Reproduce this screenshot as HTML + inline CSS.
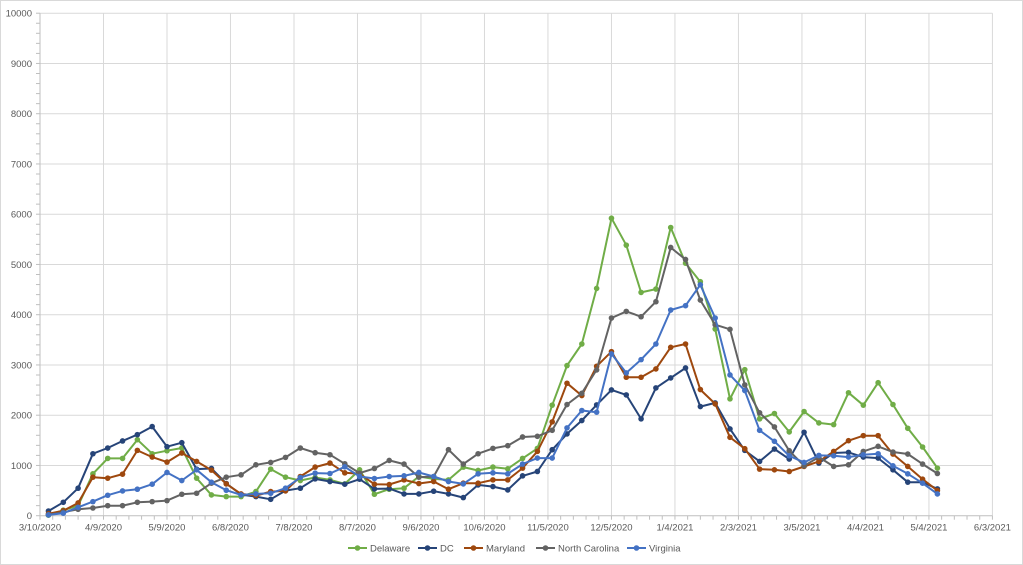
<!DOCTYPE html>
<html><head><meta charset="utf-8"><style>
html,body{margin:0;padding:0;background:#fff;}
svg{display:block;font-family:"Liberation Sans",sans-serif;}
</style></head><body>
<svg id="chart" width="1023" height="565">
<rect x="0.5" y="0.5" width="1022" height="564" fill="#fff" stroke="#d9d9d9"/>
<g id="grid"></g>
<g id="axes"></g>
<g id="series"></g>
<g id="legend"></g>
</svg>
<script>
const xTickLabels = ["3/10/2020","4/9/2020","5/9/2020","6/8/2020","7/8/2020","8/7/2020","9/6/2020","10/6/2020","11/5/2020","12/5/2020","1/4/2021","2/3/2021","3/5/2021","4/4/2021","5/4/2021","6/3/2021"];
const yTicks = [0,1000,2000,3000,4000,5000,6000,7000,8000,9000,10000];
const seriesNames = ["Delaware","DC","Maryland","North Carolina","Virginia"];
const delaware = [10,110,200,833,1140,1140,1513,1233,1293,1347,747,413,380,380,480,927,767,700,760,713,633,913,427,527,547,780,733,713,967,900,967,933,1140,1340,2200,2987,3417,4523,5920,5384,4444,4510,5735,5026,4656,3715,2325,2907,1927,2033,1667,2073,1847,1813,2447,2200,2647,2213,1740,1367,947];
const dc = [93,267,547,1233,1347,1487,1613,1773,1373,1453,927,940,640,420,380,327,500,547,733,680,627,727,533,540,433,433,487,433,360,613,580,513,793,880,1313,1627,1894,2205,2503,2404,1927,2543,2742,2940,2172,2245,1727,1300,1080,1327,1127,1660,1047,1247,1260,1167,1147,913,667,667,533];
const maryland = [40,100,253,767,747,827,1300,1167,1067,1247,1080,907,633,433,400,480,493,780,967,1047,853,833,627,620,713,640,680,527,647,647,713,713,947,1280,1867,2636,2391,2974,3265,2755,2755,2921,3351,3417,2510,2225,1560,1333,927,913,880,980,1080,1280,1493,1593,1593,1227,980,727,500];
const northCarolina = [20,70,127,153,200,200,267,280,300,427,447,647,767,813,1013,1060,1160,1347,1253,1213,1033,847,940,1100,1027,767,780,1313,1027,1233,1340,1393,1567,1580,1700,2212,2437,2901,3934,4066,3960,4258,5338,5099,4291,3801,3709,2603,2047,1767,1293,993,1167,980,1013,1280,1380,1267,1227,1027,840];
const virginia = [15,50,167,280,407,493,527,627,860,700,913,667,507,413,433,447,547,760,847,840,973,780,740,780,793,860,780,680,633,833,853,833,1027,1147,1147,1748,2093,2060,3219,2841,3106,3417,4093,4179,4596,3934,2801,2490,1700,1480,1193,1060,1200,1193,1167,1213,1233,993,833,647,433];
const seriesColors = ["#70AD47","#264478","#9E480E","#636363","#4472C4"];
const allSeries = [delaware, dc, maryland, northCarolina, virginia];

const NS="http://www.w3.org/2000/svg";
const X0=40, PXDAY=2.1165, Y0=515.7, PX1000=50.25, FIRSTDAY=4;
function xDay(d){return X0+d*PXDAY;}
function xIdx(i){return xDay(FIRSTDAY+i*7);}
function yVal(v){return Y0-v/1000*PX1000;}
function mk(tag,attrs,parent){const e=document.createElementNS(NS,tag);for(const k in attrs)e.setAttribute(k,attrs[k]);parent.appendChild(e);return e;}
const grid=document.getElementById('grid'),axes=document.getElementById('axes'),ser=document.getElementById('series'),leg=document.getElementById('legend');
const XR=xDay(450);
yTicks.forEach(v=>{
  if(v>0){const l=mk('line',{x1:X0,x2:XR,y1:yVal(v),y2:yVal(v),stroke:'#d9d9d9','stroke-width':1},grid);
  
  }
  const t=mk('text',{x:X0-8,y:yVal(v)+3.5,'text-anchor':'end','font-size':'9.5',fill:'#595959'},axes);
  t.textContent=v;
  
  
});
xTickLabels.forEach((lab,i)=>{
  const x=xDay(i*30);
  if(i>0){const l=mk('line',{x1:x,x2:x,y1:yVal(10000),y2:Y0,stroke:'#d9d9d9','stroke-width':1},grid);
  
  }
  const t=mk('text',{x:x,y:Y0+15,'text-anchor':'middle','font-size':'9.5',fill:'#595959'},axes);
  t.textContent=lab;
  
  
});
for(let d=0;d<=450;d+=6){mk('line',{x1:xDay(d),x2:xDay(d),y1:Y0,y2:Y0+4,stroke:'#bfbfbf','stroke-width':1},axes);}
for(let v=0;v<=10000;v+=200){mk('line',{x1:X0-4,x2:X0,y1:yVal(v),y2:yVal(v),stroke:'#bfbfbf','stroke-width':1},axes);}
const xa=mk('line',{x1:X0,x2:XR,y1:Y0,y2:Y0,stroke:'#bfbfbf','stroke-width':1},axes);


const ya=mk('line',{x1:X0,x2:X0,y1:yVal(10000),y2:Y0,stroke:'#bfbfbf','stroke-width':1},axes);



allSeries.forEach((data,s)=>{
  const g=mk('g',{},ser);
  
  
  const pts=data.map((v,i)=>xIdx(i).toFixed(1)+','+yVal(v).toFixed(1)).join(' ');
  const pl=mk('polyline',{points:pts,fill:'none',stroke:seriesColors[s],'stroke-width':2,'stroke-linejoin':'round'},g);
  
  
  data.forEach((v,i)=>{
    const c=mk('circle',{cx:xIdx(i),cy:yVal(v),r:2.8,fill:seriesColors[s]},g);
    
    
  });
});
const legX=[348,418,464,536,627];
seriesNames.forEach((n,s)=>{
  const g=mk('g',{},leg);
  
  
  const x=legX[s],y=548;
  mk('line',{x1:x,x2:x+19,y1:y,y2:y,stroke:seriesColors[s],'stroke-width':2},g);
  mk('circle',{cx:x+9.5,cy:y,r:2.8,fill:seriesColors[s]},g);
  const t=mk('text',{x:x+22,y:y+3.5,'font-size':'9.5',fill:'#595959'},g);
  t.textContent=n;
});
</script>
</body></html>
